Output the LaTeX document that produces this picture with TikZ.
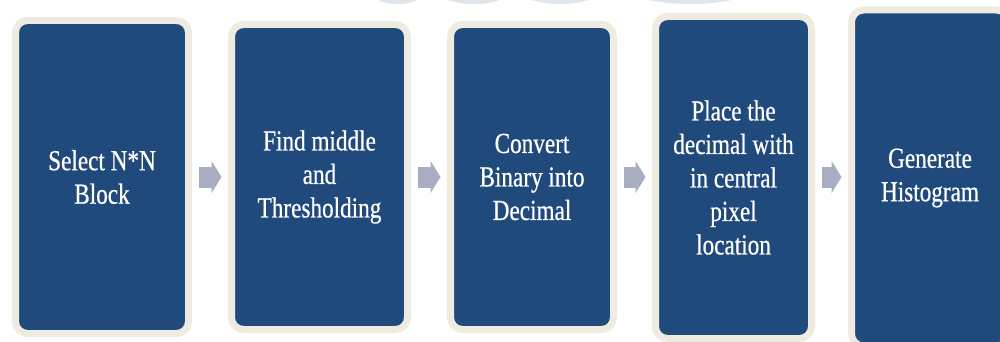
\documentclass[tikz,border=0pt]{standalone}
\usepackage{fontspec}
\setmainfont{Liberation Serif}[FakeStretch=0.8,FakeBold=0.6]
\usetikzlibrary{arrows.meta,shadows}
\definecolor{boxblue}{RGB}{32,74,124}
\definecolor{cream}{RGB}{238,236,225}
\definecolor{arrgray}{RGB}{168,173,194}
\definecolor{wmark}{RGB}{222,229,235}
\tikzset{
  stepbox/.style={draw=cream, fill=boxblue, line width=7pt, rounded corners=12pt,
    inner sep=0pt, outer sep=3.5pt, text=white, align=center,
    font=\fontsize{29}{33.5}\selectfont,
    drop shadow={opacity=0.22, shadow xshift=0.8pt, shadow yshift=-1.6pt}},
  flowarr/.style={draw=arrgray, line width=21pt, line cap=butt,
    -{Triangle[width=32pt,length=10pt]}, shorten <=6.5pt, shorten >=6.5pt}
}
\begin{document}
\begin{tikzpicture}[x=1pt,y=-1pt]
\useasboundingbox (0,0) rectangle (1000,342);
\fill[white] (0,0) rectangle (1000,342);
% faint watermark at the top edge
\begin{scope}
\clip (0,0) rectangle (1000,342);
\fill[wmark] (398,-13) ellipse [x radius=31, y radius=17];
\fill[wmark] (474,-13) ellipse [x radius=40, y radius=17];
\fill[wmark] (560,-13) ellipse [x radius=44, y radius=17];
\fill[wmark] (690,-13) ellipse [x radius=64, y radius=17];
\end{scope}
\node[stepbox, minimum width=173pt, minimum height=313pt] (b1) at (102,177) {Select N*N\\Block};
\node[stepbox, minimum width=176pt, minimum height=305pt] (b2) at (319.5,177) {Find middle\\and\\Thresholding};
\node[stepbox, minimum width=163pt, minimum height=305pt] (b3) at (532,177) {Convert\\Binary into\\Decimal};
\node[stepbox, minimum width=156pt, minimum height=322pt] (b4) at (733.5,177.5) {Place the\\decimal with\\in central\\pixel\\location};
\node[stepbox, minimum width=157pt, minimum height=336pt] (b5) at (930,178) {Generate\\Histogram};
\draw[flowarr] (b1.east) -- (b1.east -| b2.west);
\draw[flowarr] (b2.east) -- (b2.east -| b3.west);
\draw[flowarr] (b3.east) -- (b3.east -| b4.west);
\draw[flowarr] (b4.east |- b3.east) -- (b3.east -| b5.west);
\end{tikzpicture}
\end{document}
